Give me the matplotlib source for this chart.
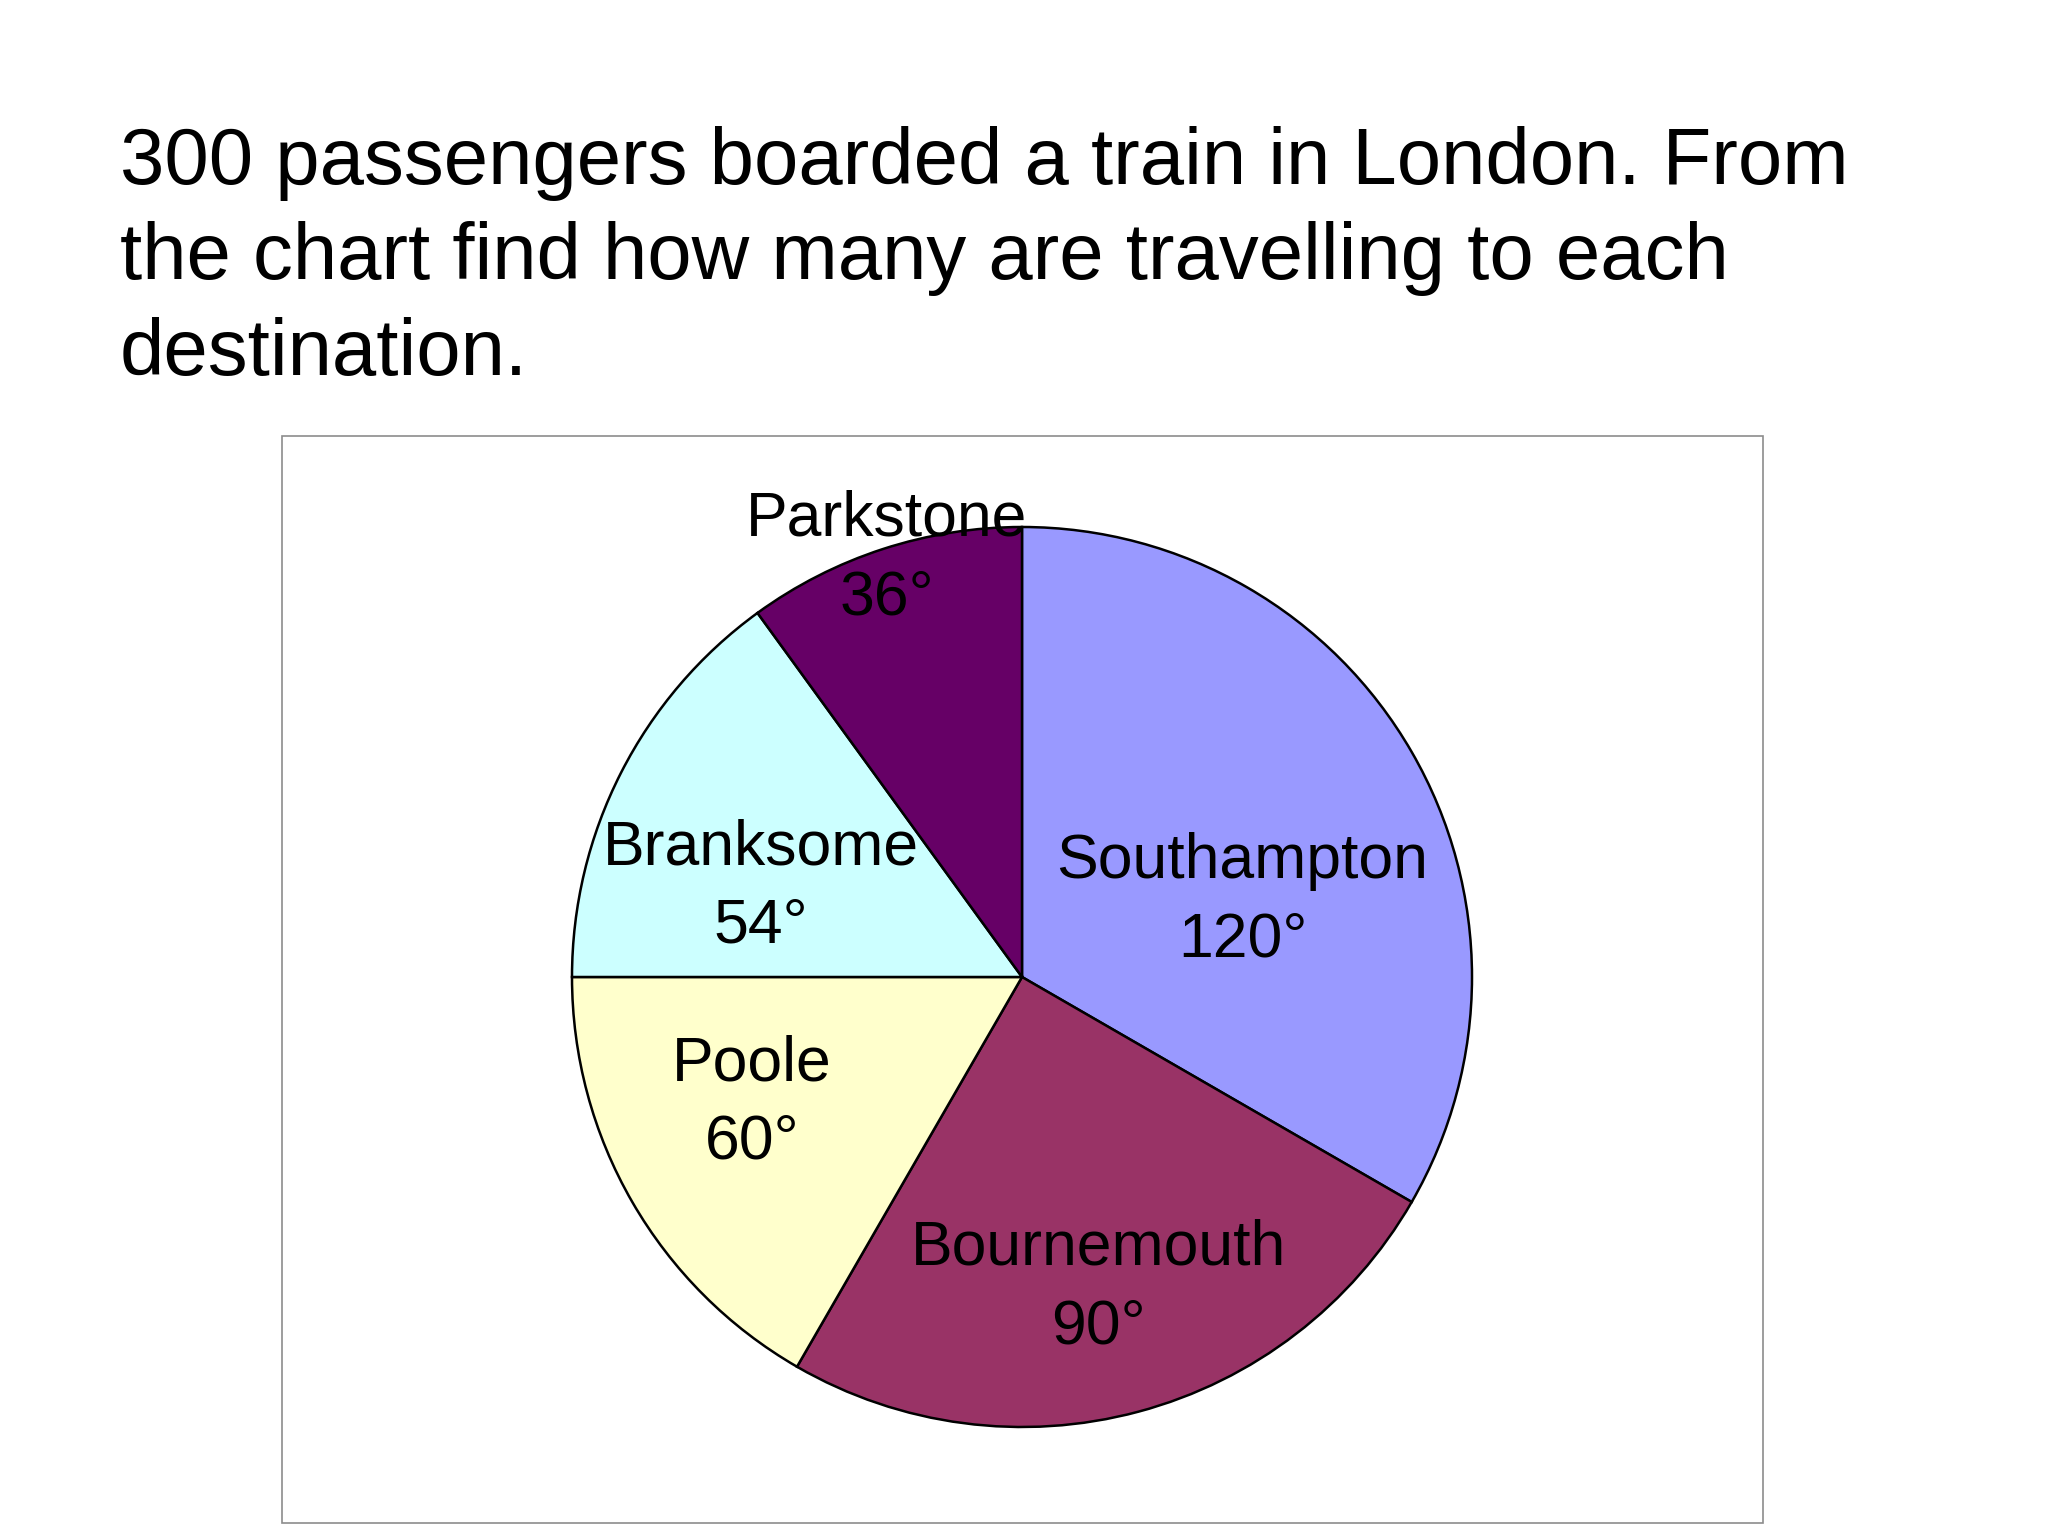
import matplotlib.pyplot as plt
from matplotlib.patches import Rectangle

# data
destinations = ['Southampton', 'Bournemouth', 'Poole', 'Branksome', 'Parkstone']
angles = [120, 90, 60, 54, 36]
colors = ['#9999FF', '#993366', '#FFFFCC', '#CCFFFF', '#660066']

title_lines = [
    '300 passengers boarded a train in London. From',
    'the chart find how many are travelling to each',
    'destination.',
]

# label centres in pie units (radius = 1)
label_pos = [(0.49, 0.17), (0.17, -0.69), (-0.60, -0.28), (-0.58, 0.20), (-0.30, 0.93)]

W, H = 2048, 1536
plt.rcParams['font.family'] = ['Liberation Sans', 'DejaVu Sans']

fig = plt.figure(figsize=(W / 100, H / 100), dpi=100)
fig.patch.set_facecolor('white')

# title, one line at a time (baselines in px from top)
for line, base in zip(title_lines, [184, 279, 375]):
    fig.text(120 / W, 1 - base / H, line, fontsize=57.4, ha='left', va='baseline')

# chart frame
left, top, right, bottom = 282, 436, 1763, 1523
fig.patches.append(Rectangle((left / W, 1 - bottom / H), (right - left) / W, (bottom - top) / H,
                             transform=fig.transFigure, fill=False, edgecolor='#8c8c8c', linewidth=1.2))

# pie
cx, cy, r = 1022, 977, 450
ax = fig.add_axes([(cx - r) / W, 1 - (cy + r) / H, 2 * r / W, 2 * r / H])
wedges, _ = ax.pie(angles, colors=colors, startangle=90, counterclock=False, radius=1,
                   wedgeprops=dict(edgecolor='black', linewidth=1.8))
for w in wedges:
    w.set_clip_on(False)
ax.set_xlim(-1, 1)
ax.set_ylim(-1, 1)
ax.set_aspect('equal')
ax.axis('off')

for name, deg, (x, y) in zip(destinations, angles, label_pos):
    ax.text(x, y, f'{name}\n{deg}°', ha='center', va='center', fontsize=45,
            linespacing=1.42, color='black')

fig.savefig('out.png', dpi=100)
